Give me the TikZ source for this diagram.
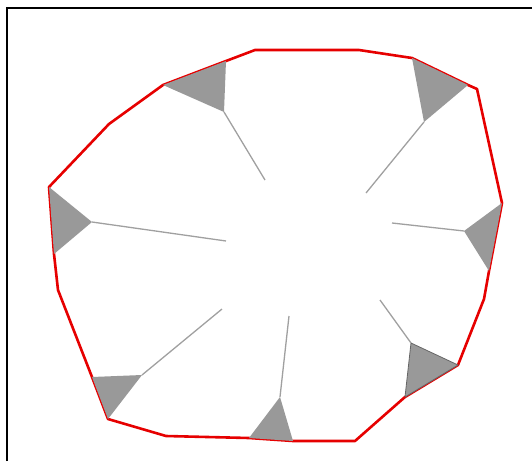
\documentclass[tikz,border=0pt]{standalone}
\usepackage{tikz}
\definecolor{rimred}{RGB}{230, 0, 0}
\definecolor{padgray}{RGB}{153, 153, 153}
\definecolor{spokegray}{RGB}{160, 160, 160}

\begin{document}
\begin{tikzpicture}[
    x=1pt, y=-1pt,
    rim/.style={draw=rimred, line width=2.6pt, line join=round},
    pad/.style={fill=padgray},
    padedge/.style={fill=padgray, draw=black!60, line width=0.8pt, line join=round},
    spoke/.style={draw=spokegray, line width=1.3pt},
    frame/.style={draw=black, line width=1.5pt}
  ]
    \useasboundingbox (0,0) rectangle (532,461);
    \draw[frame] (7,461) -- (7,8) -- (532,8);

    % outline vertices
    \coordinate (p1)  at (255,50);
    \coordinate (p2)  at (359,50);
    \coordinate (p3)  at (412,58);
    \coordinate (p4)  at (468,85);
    \coordinate (p5)  at (477,89);
    \coordinate (p6)  at (502,203);
    \coordinate (p7)  at (489,271);
    \coordinate (p8)  at (484,299);
    \coordinate (p9)  at (458,365);
    \coordinate (p10) at (405,397);
    \coordinate (p11) at (355,441);
    \coordinate (p12) at (293,441);
    \coordinate (p13) at (249,438);
    \coordinate (p14) at (166,436);
    \coordinate (p15) at (108,419);
    \coordinate (p16) at (92,377);
    \coordinate (p17) at (58,290);
    \coordinate (p18) at (54,254);
    \coordinate (p19) at (49,187);
    \coordinate (p20) at (109,124);
    \coordinate (p21) at (163,85);
    \coordinate (p22) at (226,61);

    \draw[rim] (p1) -- (p2) -- (p3) -- (p4) -- (p5) -- (p6) -- (p7) -- (p8)
      -- (p9) -- (p10) -- (p11) -- (p12) -- (p13) -- (p14) -- (p15) -- (p16)
      -- (p17) -- (p18) -- (p19) -- (p20) -- (p21) -- (p22) -- cycle;

    % inner tips of the pads and inner ends of the spokes
    \coordinate (t1) at (224,112);  \coordinate (e1) at (265,180);
    \coordinate (t2) at (424,122);  \coordinate (e2) at (366,193);
    \coordinate (t3) at (464,231);  \coordinate (e3) at (392,223);
    \coordinate (t4) at (411,343);  \coordinate (e4) at (380,300);
    \coordinate (t5) at (280,397);  \coordinate (e5) at (289,316);
    \coordinate (t6) at (142,375);  \coordinate (e6) at (222,309);
    \coordinate (t7) at (92,222);   \coordinate (e7) at (226,241);

    \fill[pad] (p21) -- (p22) -- (t1) -- cycle;
    \fill[pad] (p3) -- (p4) -- (t2) -- cycle;
    \fill[pad] (p6) -- (p7) -- (t3) -- cycle;
    \filldraw[padedge] (t4) -- (p9) -- (p10) -- cycle;
    \fill[pad] (p13) -- (p12) -- (t5) -- cycle;
    \fill[pad] (p16) -- (t6) -- (p15) -- cycle;
    \fill[pad] (p19) -- (t7) -- (p18) -- cycle;

    \foreach \i in {1,...,7}
      \draw[spoke] (t\i) -- (e\i);
\end{tikzpicture}
\end{document}
